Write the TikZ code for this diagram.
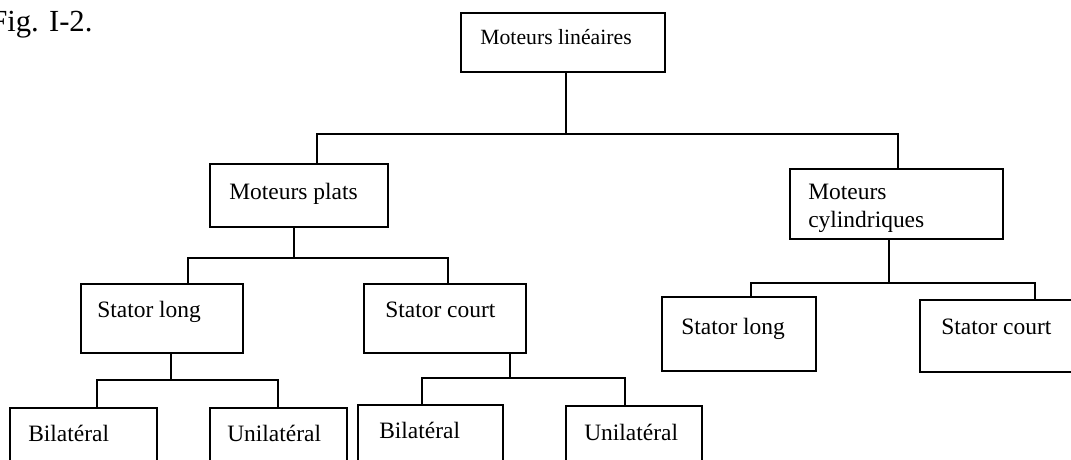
\documentclass[tikz,border=0pt]{standalone}
\usepackage{fontspec}
\setmainfont{Liberation Serif}
\usetikzlibrary{fit,calc}
\tikzset{
  box/.style={draw=black, line width=1.5pt, inner sep=0pt, fit={#1}},
  link/.style={draw=black, line width=1.5pt},
  lbl/.style={anchor=base west, inner sep=0pt, font=\fontsize{17.6pt}{21pt}\selectfont},
  toplbl/.style={anchor=base west, inner sep=0pt, font=\fontsize{16.3pt}{20pt}\selectfont},
  figlbl/.style={anchor=base west, inner sep=0pt, font=\fontsize{23pt}{27pt}\selectfont}
}
\begin{document}
\begin{tikzpicture}[x=0.75pt, y=-0.75pt]
\clip (0,0) rectangle (1071,460);
\fill[white] (0,0) rectangle (1071,460);

% caption
\node[figlbl] (fig) at (-10,32) {Fig. I-2.};

% boxes
\node[box={(461,13) (665,72)}] (root) {};
\node[box={(210,164) (388,227)}] (plats) {};
\node[box={(790,169) (1003,239)}] (cyl) {};
\node[box={(81,284) (243,353)}] (pSL) {};
\node[box={(364,284) (526,353)}] (pSC) {};
\node[box={(662,297) (816,371)}] (cSL) {};
\node[box={(920,300) (1085,372)}] (cSC) {};
\node[box={(10,408) (157,475)}] (slB) {};
\node[box={(210,408) (347,475)}] (slU) {};
\node[box={(358,405) (503,475)}] (scB) {};
\node[box={(566,406) (702,475)}] (scU) {};

% labels
\node[toplbl] (tRoot) at (480,45) {Moteurs linéaires};
\node[lbl] (tPlats) at (229,199) {Moteurs plats};
\node[lbl] (tCyl1) at (808,199) {Moteurs};
\node[lbl] (tCyl2) at (808,227) {cylindriques};
\node[lbl] (tPSL) at (97,317) {Stator long};
\node[lbl] (tPSC) at (385,317) {Stator court};
\node[lbl] (tCSL) at (681,334) {Stator long};
\node[lbl] (tCSC) at (941,334) {Stator court};
\node[lbl] (tSlB) at (28,441) {Bilatéral};
\node[lbl] (tSlU) at (227,441) {Unilatéral};
\node[lbl] (tScB) at (379,438) {Bilatéral};
\node[lbl] (tScU) at (584,440) {Unilatéral};

% junction points of the tree
\coordinate (r0) at (566,134);
\coordinate (r1) at (317,134);
\coordinate (r2) at (898,134);
\coordinate (p0) at (294,258);
\coordinate (p1) at (188,258);
\coordinate (p2) at (448,258);
\coordinate (c0) at (889,283);
\coordinate (c1) at (751,283);
\coordinate (c2) at (1035,283);
\coordinate (l0) at (171,380);
\coordinate (l1) at (97,380);
\coordinate (l2) at (278,380);
\coordinate (s0) at (510,378);
\coordinate (s1) at (422,378);
\coordinate (s2) at (625,378);

% connectors
\draw[link] (r0 |- root.south) -- (r0);
\draw[link] (r1 |- plats.north) -- (r1) -- (r2) -- (r2 |- cyl.north);
\draw[link] (p0 |- plats.south) -- (p0);
\draw[link] (p1 |- pSL.north) -- (p1) -- (p2) -- (p2 |- pSC.north);
\draw[link] (c0 |- cyl.south) -- (c0);
\draw[link] (c1 |- cSL.north) -- (c1) -- (c2) -- (c2 |- cSC.north);
\draw[link] (l0 |- pSL.south) -- (l0);
\draw[link] (l1 |- slB.north) -- (l1) -- (l2) -- (l2 |- slU.north);
\draw[link] (s0 |- pSC.south) -- (s0);
\draw[link] (s1 |- scB.north) -- (s1) -- (s2) -- (s2 |- scU.north);
\end{tikzpicture}
\end{document}
